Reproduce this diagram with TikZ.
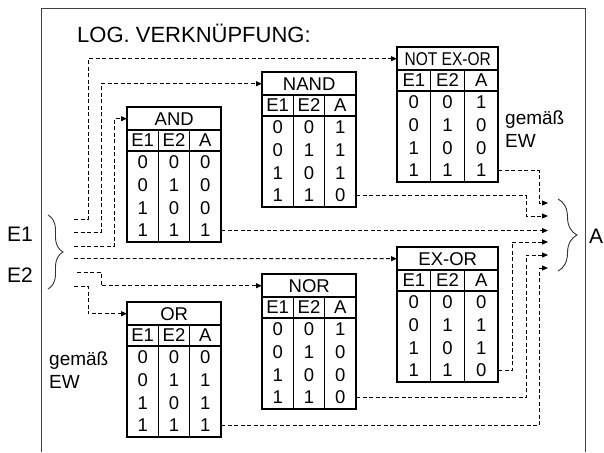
\documentclass[tikz,border=0pt]{standalone}
\usepackage{fontspec}
\setmainfont{Liberation Sans}
\usetikzlibrary{arrows.meta,decorations.pathreplacing}

\tikzset{
  zelle/.style={inner sep=0pt, font=\fontsize{18.5}{20}\selectfont},
  gross/.style={inner sep=0pt, font=\fontsize{21}{24}\selectfont},
  verb/.style={-{Triangle[length=6pt,width=5pt]}, line width=0.9pt, dash pattern=on 4pt off 2.5pt},
  tab/.style={line width=1.3pt},
  klammer/.style={decorate, decoration={brace, amplitude=#1}, line width=0.9pt, black!80},
}

% #1 name, #2 x, #3 y, #4 breite, #5 titel, #6..#9 spalte A
\newcommand\wtab[9]{%
  \draw[tab] (#2,#3) rectangle (#2+#4,#3+135)
    (#2,#3+23) -- (#2+#4,#3+23)
    (#2,#3+44) -- (#2+#4,#3+44)
    (#2+#4/3,#3+23) -- (#2+#4/3,#3+135)
    (#2+2*#4/3,#3+23) -- (#2+2*#4/3,#3+135);
  \node[zelle, minimum width=#4pt, minimum height=23pt, anchor=north west] (#1) at (#2,#3) {#5};
  \node[zelle] (#1-e1) at (#2+#4/6,#3+33.5) {E1};
  \node[zelle] (#1-e2) at (#2+#4/2,#3+33.5) {E2};
  \node[zelle] (#1-a) at (#2+5*#4/6,#3+33.5) {A};
  \foreach \p/\q/\r [count=\i] in {0/0/#6,0/1/#7,1/0/#8,1/1/#9}{
    \node[zelle] (#1-p\i) at (#2+#4/6,#3+44+\i*22.75-11.375) {\p};
    \node[zelle] (#1-q\i) at (#2+#4/2,#3+44+\i*22.75-11.375) {\q};
    \node[zelle] (#1-r\i) at (#2+5*#4/6,#3+44+\i*22.75-11.375) {\r};
  }
  \coordinate (#1-out) at (#2+#4,#3+123.6);
}

\begin{document}
\begin{tikzpicture}[x=1pt, y=-1pt]
  \useasboundingbox (0,0) rectangle (604,452);
  \draw[line width=0.9pt, black!75] (41,452) -- (41,8) -- (585,8) -- (585,452);
  \node[gross, font=\fontsize{22}{24}\selectfont, anchor=west] (titel) at (77,33) {LOG. VERKNÜPFUNG:};

  % tabellen
  \wtab{und}{127}{107}{94}{AND}{0}{0}{0}{1}
  \wtab{nand}{262}{72}{94}{NAND}{1}{1}{1}{0}
  \wtab{aeq}{397}{47}{101}{\scalebox{0.84}[1]{NOT EX-OR}}{1}{0}{0}{1}
  \wtab{oder}{127}{302}{94}{OR}{0}{1}{1}{1}
  \wtab{nor}{262}{274}{94}{NOR}{1}{0}{0}{0}
  \wtab{exor}{397}{247}{101}{EX-OR}{0}{1}{1}{0}

  % eingaenge
  \node[gross] (e1) at (20,234) {E1};
  \node[gross] (e2) at (20,275) {E2};
  \draw[klammer=15pt] (48,215) -- (48,289);
  \node[gross, font=\fontsize{19}{23}\selectfont, align=left, anchor=north west] (ew1) at (49,352) {gemäß\\EW};
  \node[gross, font=\fontsize{19}{23}\selectfont, align=left, anchor=north west] (ew2) at (505,111) {gemäß\\EW};

  \coordinate (l1) at (74,219);
  \coordinate (l2) at (74,232);
  \coordinate (l3) at (74,246);
  \coordinate (l4) at (74,258.5);
  \coordinate (l5) at (77,272);
  \coordinate (l6) at (74,286);
  \draw[verb] (l1) -- ++(14,0) |- (aeq.west);
  \draw[verb] (l2) -- ++(27,0) |- (nand.west);
  \draw[verb] (l3) -- ++(40,0) |- (und.west);
  \draw[verb] (l4) -- (exor.west);
  \draw[verb] (l5) -- ++(24,0) |- (nor.west);
  \draw[verb] (l6) -- ++(14,0) |- (oder.west);

  % ausgang
  \coordinate (a1) at (548,203);
  \coordinate (a2) at (548,216);
  \coordinate (a3) at (548,230.6);
  \coordinate (a4) at (548,242);
  \coordinate (a5) at (548,255);
  \coordinate (a6) at (548,268);
  \draw[verb] (aeq-out) -| ([xshift=-9pt]a1) -- (a1);
  \draw[verb] (nand-out) -| ([xshift=-22pt]a2) -- (a2);
  \draw[verb] (und-out) -- (a3);
  \draw[verb] (exor-out) -| ([xshift=-36pt]a4) -- (a4);
  \draw[verb] (nor-out) -| ([xshift=-22pt]a5) -- (a5);
  \draw[verb] (oder-out) -| ([xshift=-9pt]a6) -- (a6);
  \draw[klammer=19pt] (558,199) -- (558,271);
  \node[gross, anchor=west] (aus) at (589,236) {A};
\end{tikzpicture}
\end{document}
